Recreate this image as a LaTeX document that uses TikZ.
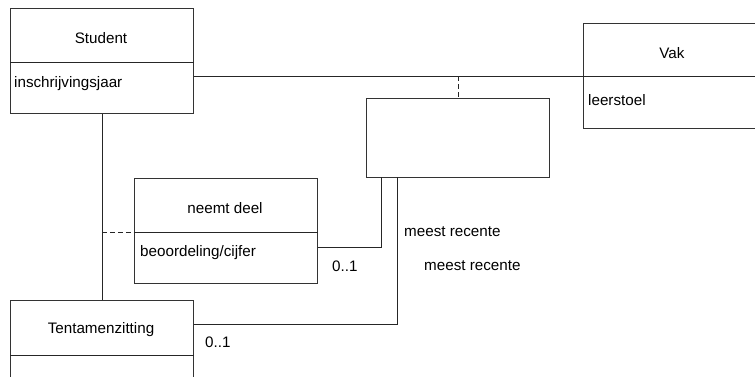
\documentclass[tikz,border=0pt]{standalone}
\usepackage{fontspec}
\setmainfont{Liberation Sans}
\begin{document}
\begin{tikzpicture}[x=1pt,y=-1pt,
  box/.style={draw=black!80,line width=0.8pt,anchor=north west,inner sep=0pt,minimum width=183pt,minimum height=105pt},
  lbl/.style={font=\fontsize{15.2}{18}\selectfont,inner sep=0pt},
  conn/.style={draw=black!85,line width=0.8pt},
  dashline/.style={draw=black!85,line width=0.8pt,dash pattern=on 5pt off 3pt}]
\useasboundingbox (0,0) rectangle (755,376);
% boxes
\node[box] (stu) at (10,8) {};
\node[box,minimum width=180pt] (vak) at (583,23) {};
\node[box,minimum height=79pt] (asc) at (366,98) {};
\node[box] (nd) at (134,178) {};
\node[box,minimum height=90pt] (ten) at (10,300) {};
% dividers
\draw[conn] (stu.west |- 0,62) -- (stu.east |- 0,62);
\draw[conn] (vak.west |- 0,76) -- (vak.east |- 0,76);
\draw[conn] (nd.west |- 0,232) -- (nd.east |- 0,232);
\draw[conn] (ten.west |- 0,355) -- (ten.east |- 0,355);
% texts
\node[lbl] (t1) at (101,38) {Student};
\node[lbl,anchor=west] (t2) at (14,84) {inschrijvingsjaar};
\node[lbl] (t3) at (672,53) {Vak};
\node[lbl,anchor=west] (t4) at (588,100) {leerstoel};
\node[lbl] (t5) at (225,208) {neemt deel};
\node[lbl,anchor=west] (t6) at (140,253) {beoordeling/cijfer};
\node[lbl] (t7) at (101,330) {Tentamenzitting};
\node[lbl,anchor=west] (m1) at (332,266) {0..1};
\node[lbl,anchor=west] (m2) at (205,342) {0..1};
\node[lbl,anchor=west] (r1) at (404,232) {meest recente};
\node[lbl,anchor=west] (r2) at (424,266) {meest recente};
% connectors
\coordinate (j1) at (asc.north |- 0,76);
\draw[conn] (stu.east |- 0,76) -- (vak.west |- 0,76);
\draw[dashline] (j1) -- (asc.north);
\draw[conn] (stu.south) -- (ten.north);
\coordinate (j2) at (stu.south |- 0,232);
\draw[dashline] (j2) -- (nd.west |- 0,232);
\coordinate (a1) at (381,177);
\coordinate (a2) at (397,177);
\draw[conn] (nd.east |- 0,247) -| (a1);
\draw[conn] (ten.east |- 0,324) -| (a2);
\end{tikzpicture}
\end{document}
